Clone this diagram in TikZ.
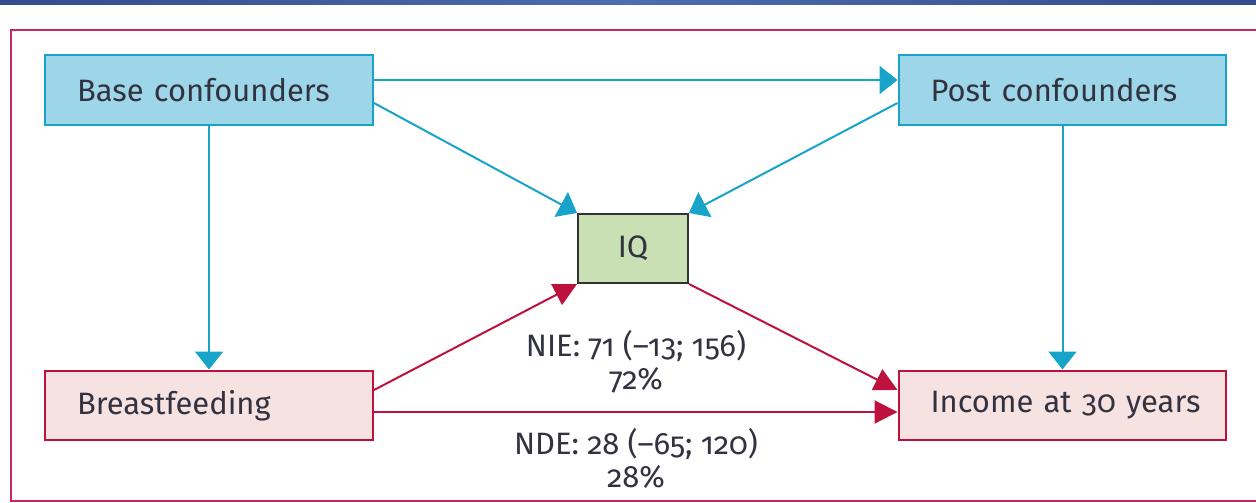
\documentclass[tikz,border=0pt]{standalone}
\usepackage{fontspec}
\setmainfont{Fira Sans}[Numbers=OldStyle]
\usetikzlibrary{arrows.meta}
\definecolor{confFill}{RGB}{157,214,232}
\definecolor{confLine}{RGB}{24,164,200}
\definecolor{bfFill}{RGB}{246,226,225}
\definecolor{crimson}{RGB}{190,18,62}
\definecolor{frameLine}{RGB}{200,40,88}
\definecolor{iqFill}{RGB}{200,224,180}
\definecolor{txt}{RGB}{50,50,64}
\definecolor{barDark}{RGB}{50,76,140}
\definecolor{barLight}{RGB}{78,108,176}
\tikzset{
  box/.style = {rectangle, line width=0.04cm, minimum height=1.4cm,
                text width=5.28cm, inner xsep=0.64cm, align=left,
                text=txt, font=\fontsize{17.6}{20}\selectfont},
  conf/.style = {box, fill=confFill, draw=confLine},
  outc/.style = {box, fill=bfFill, draw=crimson},
  blue arrow/.style = {draw=confLine, line width=0.04cm,
                       -{Triangle[length=0.36cm, width=0.56cm]}},
  red arrow/.style = {draw=crimson, line width=0.04cm,
                      -{Triangle[length=0.46cm, width=0.46cm]}},
  effect/.style = {align=center, text=txt, inner sep=0pt,
                   font=\fontsize{17.6}{18.8}\selectfont}
}

\begin{document}
\begin{tikzpicture}[x=0.02cm, y=-0.02cm]
	\def \up{0.2cm}
	\def \down{-0.26cm}
	
	\useasboundingbox (0,0) rectangle (1256,503);
	
	% Top bar and frame
	\shade[left color=barDark, right color=barDark, middle color=barLight] (0,0) rectangle (1256,4.5);
	\draw[frameLine, line width=0.04cm] (1256,30) -- (11,30) -- (11,501) -- (1256,501);
	
	% Boxes
	\node[conf] (base) at (209,90) {Base confounders};
	\node[conf] (post) at (1062.5,90) {Post confounders};
	\node[outc] (bf) at (209,405.5) {Breastfeeding};
	\node[outc] (inc) at (1062.5,405.5) {\mbox{Income at 30 years}};
	\node[rectangle, fill=iqFill, draw=black!80, line width=0.04cm,
	      minimum width=2.2cm, minimum height=1.38cm, text=txt,
	      font=\fontsize{17.6}{20}\selectfont] (iq) at (633,248.5) {IQ};
	
	% Confounder paths
	\draw[blue arrow] ([yshift=\up]base.east) -- ([yshift=\up]post.west);
	\draw[blue arrow] ([yshift=\down]base.east) -- (iq.north west);
	\draw[blue arrow] ([yshift=\down]post.west) -- (iq.north east);
	\draw[blue arrow] (base.south) -- (bf.north);
	\draw[blue arrow] (post.south) -- (inc.north);
	
	% Mediation paths
	\draw[red arrow] ([yshift=0.31cm]bf.east) -- (iq.south west);
	\draw[red arrow] (iq.south east) -- ([yshift=0.31cm]inc.west);
	\draw[red arrow] ([yshift=-0.13cm]bf.east) -- ([yshift=-0.13cm]inc.west);
	
	% Effects
	\node[effect] (nie) at (636,361.5) {NIE: 71 (–13; 156)\\72\%};
	\node[effect] (nde) at (636,458.5) {NDE: 28 (–65; 120)\\28\%};
	
\end{tikzpicture}
\end{document}
